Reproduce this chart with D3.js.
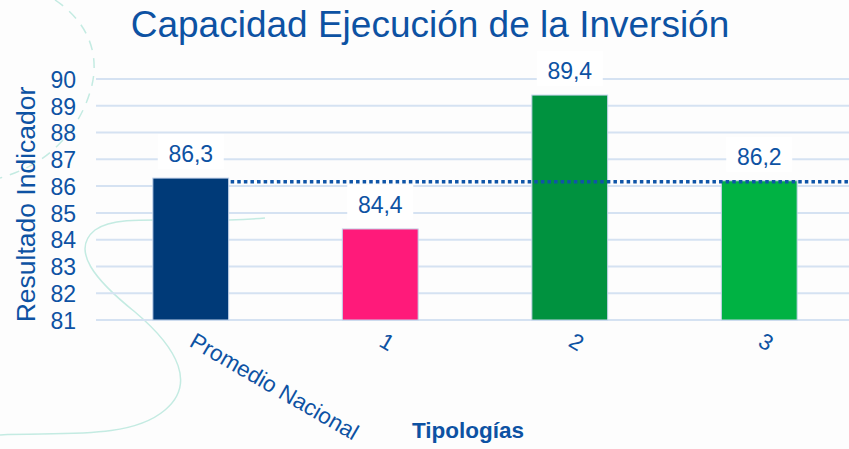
<!DOCTYPE html>
<html>
<head>
<meta charset="utf-8">
<script src="https://cdn.jsdelivr.net/npm/d3@7/dist/d3.min.js"></script>
<style>
  html, body { margin: 0; padding: 0; background: #fdfdfd; }
  svg { display: block; font-family: "Liberation Sans", Arial, sans-serif; }
</style>
</head>
<body>
<svg id="chart" width="849" height="449"></svg>
<script>
// Chart data
const categories = ["Promedio Nacional", "1", "2", "3"];
const values = [86.3, 84.4, 89.4, 86.2];
const valueLabels = ["86,3", "84,4", "89,4", "86,2"];
const barColors = ["#003a78", "#ff1a7a", "#00923f", "#00b243"];
const yTicks = [81, 82, 83, 84, 85, 86, 87, 88, 89, 90];
const referenceLine = 86.2;

const title = "Capacidad Ejecución de la Inversión";
const yTitle = "Resultado Indicador";
const xTitle = "Tipologías";

const textBlue = "#0d52a3";
const svg = d3.select("#chart");

// Decorative background strokes
const deco = svg.append("g").attr("fill", "none").attr("stroke", "#c4ebe2").attr("stroke-width", 1.5);
deco.append("path")
  .attr("d", "M0,435 C60,432 130,440 165,410 C195,385 180,350 135,312 C95,280 70,250 95,230 C120,212 180,225 265,218");
deco.append("path")
  .attr("stroke-dasharray", "10,8")
  .attr("d", "M55,0 C85,20 100,50 92,85 C86,110 70,140 40,160 C25,170 10,175 0,178");

// Scales
const x = d3.scaleBand().domain(categories).range([96, 854]).paddingInner(0.6).paddingOuter(0.3);
const y = d3.scaleLinear().domain([81, 90]).range([320, 79]);

// Gridlines
svg.append("g")
  .selectAll("line")
  .data(yTicks)
  .join("line")
  .attr("x1", 96).attr("x2", 849)
  .attr("y1", d => y(d)).attr("y2", d => y(d))
  .attr("stroke", "#d5e2f2").attr("stroke-width", 2);

// Y axis tick labels
const yAxis = svg.append("g")
  .attr("transform", "translate(76,0)")
  .call(d3.axisLeft(y).tickValues(yTicks).tickSize(0).tickPadding(0));
yAxis.select(".domain").remove();
yAxis.selectAll("text")
  .attr("font-size", 23)
  .attr("fill", textBlue)
  .attr("font-family", "Liberation Sans, Arial, sans-serif")
  .attr("dy", "0.36em");

// Bars
svg.append("g")
  .selectAll("rect")
  .data(categories)
  .join("rect")
  .attr("x", d => x(d))
  .attr("y", (d, i) => y(values[i]))
  .attr("width", x.bandwidth())
  .attr("height", (d, i) => y(81) - y(values[i]))
  .attr("fill", (d, i) => barColors[i])
  .attr("stroke", "#c3d3ea").attr("stroke-width", 1);

// Dotted reference line
svg.append("line")
  .attr("x1", x(categories[0]) + x.bandwidth() + 2)
  .attr("x2", 849)
  .attr("y1", y(referenceLine) + 1).attr("y2", y(referenceLine) + 1)
  .attr("stroke", "#0f55a8")
  .attr("stroke-width", 3.6)
  .attr("stroke-dasharray", "3.5,3.1");

// Value labels with white boxes
const lbl = svg.append("g")
  .selectAll("g")
  .data(categories)
  .join("g")
  .attr("transform", (d, i) => `translate(${x(d) + x.bandwidth() / 2},${y(values[i]) - 16})`);
lbl.append("rect")
  .attr("x", -33).attr("y", -28).attr("width", 66).attr("height", 35)
  .attr("fill", "#ffffff");
lbl.append("text")
  .attr("text-anchor", "middle")
  .attr("font-size", 23)
  .attr("fill", textBlue)
  .text((d, i) => valueLabels[i]);

// Category labels (rotated)
svg.append("g")
  .selectAll("text")
  .data(categories)
  .join("text")
  .attr("transform", d => `translate(${x(d) + x.bandwidth() / 2 + 6},${331}) rotate(30)`)
  .attr("dy", "0.75em")
  .attr("text-anchor", "start")
  .attr("font-size", 22.5)
  .attr("fill", textBlue)
  .text(d => d);

// Title
svg.append("text")
  .attr("x", 430).attr("y", 37)
  .attr("text-anchor", "middle")
  .attr("font-size", 37)
  .attr("fill", textBlue)
  .text(title);

// Y axis title
svg.append("text")
  .attr("transform", `translate(35,${(y(81) + y(90)) / 2 + 5}) rotate(-90)`)
  .attr("text-anchor", "middle")
  .attr("font-size", 26.5)
  .attr("fill", textBlue)
  .text(yTitle);

// X axis title
svg.append("text")
  .attr("x", 468).attr("y", 438)
  .attr("text-anchor", "middle")
  .attr("font-size", 22.5)
  .attr("font-weight", "bold")
  .attr("fill", textBlue)
  .text(xTitle);
</script>
</body>
</html>
